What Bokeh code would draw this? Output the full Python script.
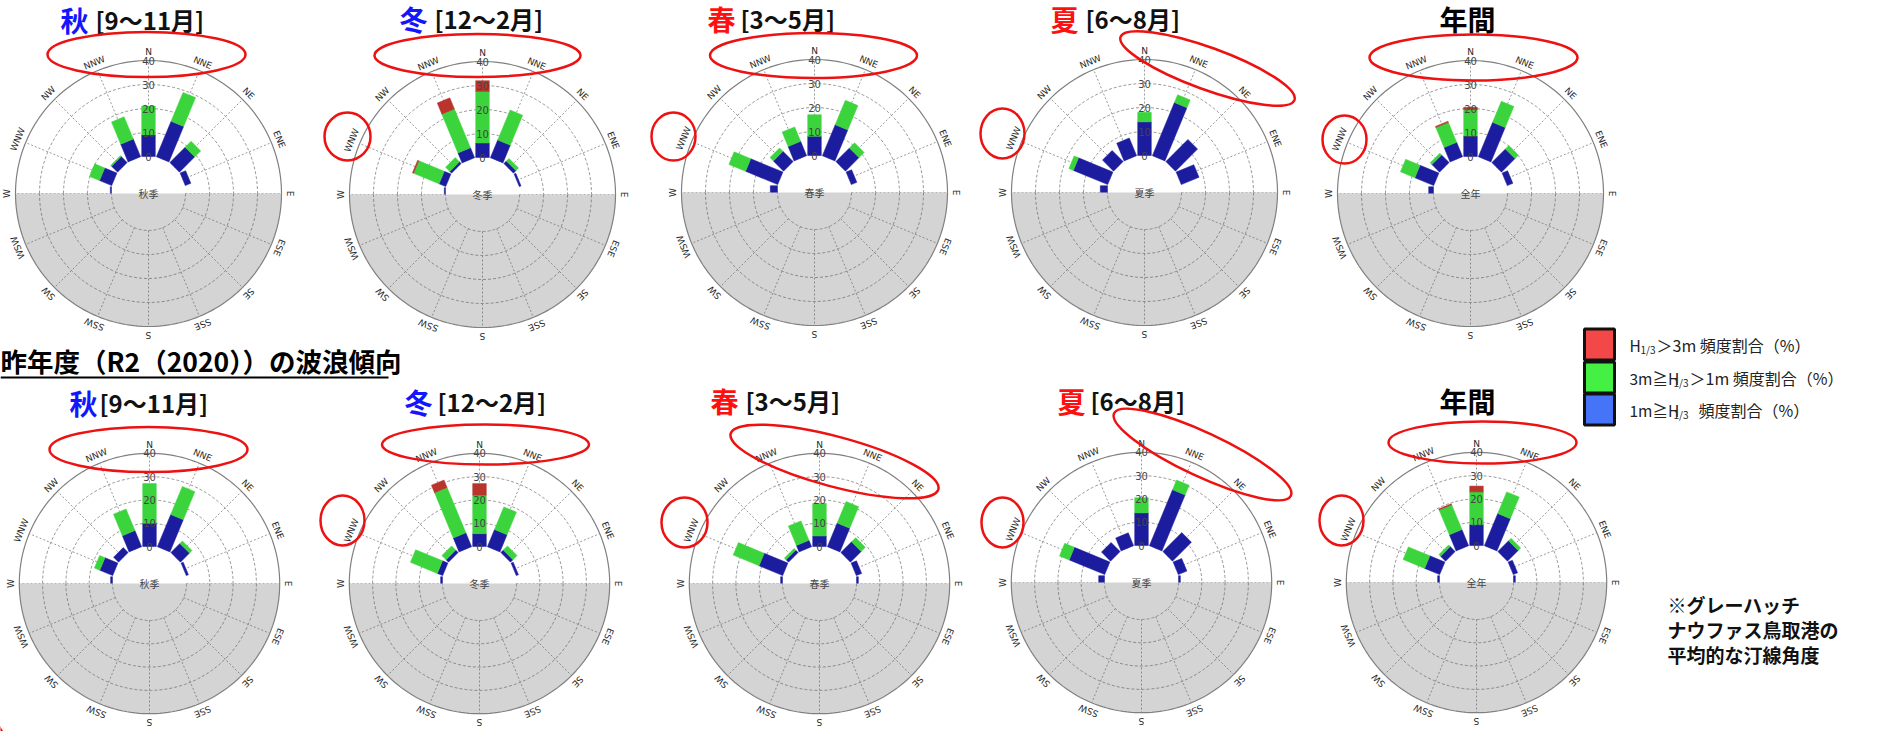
import numpy as np
from bokeh.plotting import figure
from bokeh.models import Range1d
from bokeh.core.properties import value
from bokeh.embed import file_html
from bokeh.resources import INLINE

# ---------------- data ----------------
directions = ["N", "NNE", "NE", "ENE", "E", "ESE", "SE", "SSE",
              "S", "SSW", "SW", "WSW", "W", "WNW", "NW", "NNW"]
bar_dirs = ["W", "WNW", "NW", "NNW", "N", "NNE", "NE", "ENE", "E"]
radial_ticks = [0, 10, 20, 30, 40]
r_max = 40

# R3 (2021) season wave roses: % frequency per direction (bar_dirs order)
aut_low = [0.5, 5.5, 3.5, 8, 9, 16, 9, 2.5, 0]
aut_mid = [0, 4.5, 0.5, 10, 12, 13, 3.5, 0, 0]
aut_high = [0, 0, 0, 0, 0, 0, 0, 0, 0]
win_low = [0.5, 3, 1, 4.5, 6, 8, 1.5, 0.8, 0]
win_mid = [0, 11.5, 2.5, 17.5, 21.5, 13.5, 1.5, 0, 0]
win_high = [0, 0.5, 0, 5, 4.5, 0, 0, 0, 0]
spr_low = [3, 14.5, 6, 6.5, 8, 14, 8, 2.5, 0]
spr_mid = [0, 7.5, 2, 6.5, 9, 11, 3, 0, 0]
spr_high = [0, 0, 0, 0, 0, 0, 0, 0, 0]
sum_low = [3, 15.5, 6.5, 8, 14, 24, 13, 8, 0]
sum_mid = [0, 2, 0, 0, 4, 3.5, 0, 0, 0]
sum_high = [0, 0, 0, 0, 0, 0, 0, 0, 0]
ann_low = [2, 8.5, 4.5, 6.5, 8.5, 15.5, 8, 2.5, 0]
ann_mid = [0, 6.5, 1, 9, 11, 9.5, 2, 0, 0]
ann_high = [0, 0, 0, 0.5, 1, 0, 0, 0, 0]

# R2 (2020)
aut2_low = [0.8, 6, 3, 7.5, 10, 15, 5.5, 1, 0]
aut2_mid = [0, 2.5, 0, 10, 17, 13, 1.5, 0, 0]
aut2_high = [0, 0, 0, 0, 0, 0, 0, 0, 0]
win2_low = [0.8, 2.5, 1.5, 6.5, 5.5, 8, 1.5, 1, 0]
win2_mid = [0, 12.5, 2.5, 21, 16.5, 10.5, 2.5, 0, 0]
win2_high = [0, 0, 0, 3.5, 5, 0, 0, 0, 0]
spr2_low = [0.8, 11, 1.5, 3, 4.5, 11, 6.5, 2.5, 0.8]
spr2_mid = [0, 12, 1, 9, 14, 10, 2.5, 0, 0]
spr2_high = [0, 0, 0, 0, 0, 0, 0, 0, 0]
sum2_low = [2.5, 16.5, 5.5, 6, 14, 26, 11.5, 4, 0.8]
sum2_mid = [0, 4.5, 0, 0, 6.5, 4.5, 0, 0, 0]
sum2_high = [0, 0, 0, 0, 0, 0, 0, 0, 0]
ann2_low = [0.8, 7, 3, 7.5, 9, 15, 6.5, 2, 0.8]
ann2_mid = [0, 10, 1, 11.5, 14, 10, 1.5, 0, 0]
ann2_high = [0, 0, 0, 0.5, 2.5, 0, 0, 0, 0]

season_chars = ["秋", "冬", "春", "夏", "年間"]
season_months = ["[9～11月]", "[12～2月]", "[3～5月]", "[6～8月]", ""]
center_names = ["秋季", "冬季", "春季", "夏季", "全年"]
heading = "昨年度（R2（2020））の波浪傾向"
legend_pre = ["H", "3m≧H", "1m≧H"]
legend_post = ["＞3m 頻度割合（%）", "＞1m 頻度割合（%）", "頻度割合（%）"]
note_lines = ["※グレーハッチ", "ナウファス鳥取港の", "平均的な汀線角度"]

# ---------------- styling / layout ----------------
W, H = 1867, 731
FONT = value("Noto Sans CJK JP")
C_LOW, C_MID, C_HIGH = "#1c1c9e", "#3cd43c", "#b8342c"
L_HIGH, L_MID, L_LOW = "#f44848", "#44f044", "#4674f8"
HOLE = 37.0  # px
title_colors = ["#1414ff", "#1414ff", "#ff1010", "#ff1010", "#000000"]

p = figure(width=W, height=H, output_backend="svg", toolbar_location=None,
           x_range=Range1d(8, 8 + W), y_range=Range1d(8, 8 + H),
           min_border=0, outline_line_color=None)
p.axis.visible = False
p.grid.visible = False
p.background_fill_color = "white"
p.border_fill_color = "white"


def Y(yr):
    return 747 - yr


def arc(cx, cy, r, a0, a1, n=90):
    a = np.radians(np.linspace(a0, a1, n))
    return list(cx + r * np.sin(a)), list(cy + r * np.cos(a))


panels = [
    (156, 201, 0, 2.4, aut_low, aut_mid, aut_high),
    (490, 202, 1, 2.4, win_low, win_mid, win_high),
    (822, 200, 2, 2.4, spr_low, spr_mid, spr_high),
    (1152, 200, 3, 2.4, sum_low, sum_mid, sum_high),
    (1478, 201, 4, 2.4, ann_low, ann_mid, ann_high),
    (157, 591, 0, 2.33, aut2_low, aut2_mid, aut2_high),
    (487, 591, 1, 2.33, win2_low, win2_mid, win2_high),
    (827, 591, 2, 2.33, spr2_low, spr2_mid, spr2_high),
    (1149, 590, 3, 2.33, sum2_low, sum2_mid, sum2_high),
    (1484, 590, 4, 2.33, ann2_low, ann2_mid, ann2_high),
]

half_w = 6.8

for (cxr, cyr, si, K, low, mid, high) in panels:
    cx, cy = cxr, Y(cyr)

    def rad(v):
        return HOLE + K * v

    outer = rad(r_max)
    # upper grid
    xs, ys = [], []
    for t in radial_ticks[1:-1]:
        ax, ay = arc(cx, cy, rad(t), -90, 90)
        xs.append(ax); ys.append(ay)
    sx, sy = [], []
    for i, d in enumerate(directions):
        th = i * 22.5
        if th <= 90 or th >= 270:
            a = np.radians(th)
            sx.append([cx + HOLE * np.sin(a), cx + outer * np.sin(a)])
            sy.append([cy + HOLE * np.cos(a), cy + outer * np.cos(a)])
    p.multi_line(xs, ys, line_color="#9a9a9a", line_width=1, line_dash="3 2")
    p.multi_line(sx, sy, line_color="#9a9a9a", line_width=1, line_dash="2 2")

    # bars
    bx, by, bc = [], [], []
    for j, d in enumerate(bar_dirs):
        th = np.radians(directions.index(d) * 22.5)
        u = np.array([np.sin(th), np.cos(th)])
        nv = np.array([np.cos(th), -np.sin(th)])
        c = np.array([cx, cy])
        cum = 0.0
        for val, col in ((low[j], C_LOW), (mid[j], C_MID), (high[j], C_HIGH)):
            if val <= 0:
                continue
            r0, r1 = rad(cum), rad(cum + val)
            pts = [c + r0 * u + half_w * nv, c + r1 * u + half_w * nv,
                   c + r1 * u - half_w * nv, c + r0 * u - half_w * nv]
            bx.append([q[0] for q in pts]); by.append([q[1] for q in pts])
            bc.append(col)
            cum += val
    p.patches(bx, by, fill_color=bc, line_color=bc, line_width=0.5)

    # grey lower half
    gx, gy = arc(cx, cy, outer, 90, 270, 120)
    p.patch(gx, gy, fill_color="#d4d4d4", line_color=None)

    # lower grid
    xs, ys = [], []
    for t in radial_ticks[:-1]:
        ax, ay = arc(cx, cy, rad(t), 90, 270)
        xs.append(ax); ys.append(ay)
    sx, sy = [], []
    for i, d in enumerate(directions):
        th = i * 22.5
        if 90 < th < 270:
            a = np.radians(th)
            sx.append([cx + HOLE * np.sin(a), cx + outer * np.sin(a)])
            sy.append([cy + HOLE * np.cos(a), cy + outer * np.cos(a)])
    p.multi_line(xs, ys, line_color="#8a8a8a", line_width=1, line_dash="3 2")
    p.multi_line(sx, sy, line_color="#8a8a8a", line_width=1, line_dash="2 2")
    ox, oy = arc(cx, cy, outer, 0, 360, 200)
    p.line(ox, oy, line_color="#808080", line_width=1.2)

    # direction labels
    ths = np.radians(np.arange(16) * 22.5)
    rl = outer + 8.5
    p.text(x=list(cx + rl * np.sin(ths)), y=list(cy + rl * np.cos(ths)),
           text=directions, angle=list(-ths), text_align="center",
           text_baseline="middle", text_font=value("DejaVu Sans"),
           text_font_size="9px", text_color="#2a2a2a")
    # radial tick labels
    p.text(x=[cx] * len(radial_ticks), y=[cy + rad(t) for t in radial_ticks],
           text=[str(t) for t in radial_ticks], text_align="center",
           text_baseline="middle", text_font=value("DejaVu Sans"),
           text_font_size="10px", text_color="#444444")
    # centre name
    p.text(x=[cx], y=[cy], text=[center_names[si]], text_align="center",
           text_baseline="middle", text_font=FONT, text_font_size="10px",
           text_color="#444444")

# titles
title_pos = [
    ((68, 27), (103, 27)), ((407, 26), (442, 26)), ((715, 26), (748, 26)),
    ((1058, 26), (1093, 26)), ((1447, 26), None),
    ((77, 410), (107, 410)), ((412, 409), (445, 409)), ((718, 408), (753, 408)),
    ((1065, 408), (1098, 408)), ((1447, 408), None),
]
for k, (a, b) in enumerate(title_pos):
    si = k % 5
    p.text(x=[a[0]], y=[Y(a[1])], text=[season_chars[si]], text_align="left",
           text_baseline="middle", text_font=FONT, text_font_style="bold",
           text_font_size="28px", text_color=title_colors[si])
    if b is not None:
        p.text(x=[b[0]], y=[Y(b[1])], text=[season_months[si]], text_align="left",
               text_baseline="middle", text_font=FONT, text_font_style="bold",
               text_font_size="24px", text_color="#111111")

# heading
p.text(x=[8], y=[Y(368)], text=[heading], text_align="left", text_baseline="middle",
       text_font=FONT, text_font_style="bold", text_font_size="26.5px", text_color="#000000")
p.line([8, 396], [Y(385), Y(385)], line_color="black", line_width=2)

# legend
ly = [352, 385, 417]
p.rect(x=[1607] * 3, y=[Y(v) for v in ly], width=30, height=31,
       fill_color=[L_HIGH, L_MID, L_LOW], line_color="#111111", line_width=3)
pre_x = [1637, 1637, 1637]
sub_x = [1648, 1681, 1681]
post_x = [1664, 1697, 1706]
for i in range(3):
    yy = Y(ly[i])
    p.text(x=[pre_x[i]], y=[yy], text=[legend_pre[i]], text_align="left",
           text_baseline="middle", text_font=FONT, text_font_size="15.5px", text_color="#222222")
    p.text(x=[sub_x[i]], y=[yy - 5], text=["1/3"], text_align="left",
           text_baseline="middle", text_font=FONT, text_font_size="10px", text_color="#222222")
    p.text(x=[post_x[i]], y=[yy], text=[legend_post[i]], text_align="left",
           text_baseline="middle", text_font=FONT, text_font_size="16px", text_color="#222222")

# note
for i, ln in enumerate(note_lines):
    p.text(x=[1675], y=[Y(612 + 25 * i)], text=[ln], text_align="left",
           text_baseline="middle", text_font=FONT, text_font_style="bold",
           text_font_size="19px", text_color="#111111")

# red highlight ellipses
ell_x = [154, 485, 355, 821, 681, 1215, 1010, 1481, 1352,
         156, 493, 350, 842, 692, 1210, 1010, 1490, 1349]
ell_y = [62, 63, 144, 63, 144, 76, 141, 65, 147,
         457, 452, 528, 469, 530, 462, 530, 450, 528]
ell_w = [198, 206, 46, 207, 44, 185, 44, 208, 44,
         198, 207, 44, 215, 46, 195, 42, 188, 44]
ell_h = [45, 43, 48, 45, 48, 42, 50, 46, 48,
         45, 40, 50, 50, 50, 44, 50, 42, 50]
ell_a = [0, 0, 0, 0, 0, -20, 0, 0, 0,
         0, 0, 0, -15, 0, -25, 0, 0, 0]
p.ellipse(x=ell_x, y=[Y(v) for v in ell_y], width=ell_w, height=ell_h,
          angle=[np.radians(a) for a in ell_a], fill_color=None,
          line_color="#ee1111", line_width=2.5)

# red frame corners
fx, fy = arc(50, Y(712), 50, 180, 270)
p.line(fx, fy, line_color="#ee0000", line_width=5)
fx, fy = arc(1835, Y(700), 60, 90, 180)
p.line(fx, fy, line_color="#ee0000", line_width=5)

open("out.html", "w").write(file_html(p, INLINE))
